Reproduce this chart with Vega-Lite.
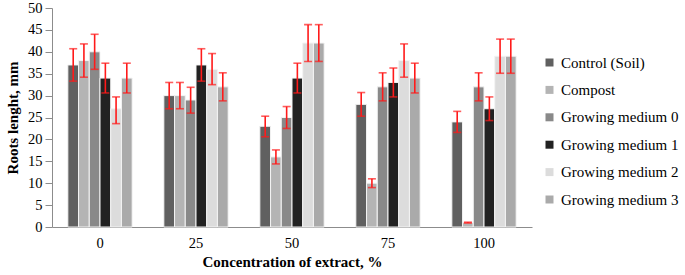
{
  "$schema": "https://vega.github.io/schema/vega-lite/v6.json",
  "width": 480,
  "height": 219,
  "autosize": {"type": "none"},
  "padding": {"left": 52, "top": 8, "right": 153, "bottom": 48},
  "config": {
    "view": {"stroke": null},
    "font": "Times New Roman",
    "axis": {"labelColor": "#000", "titleColor": "#000", "domainColor": "#8c8c8c", "tickColor": "#8c8c8c", "grid": false}
  },
  "datasets": {
    "roots": [
      {"conc": "0", "group": "Control (Soil)", "value": 37, "lo": 33.3, "hi": 40.7},
      {"conc": "0", "group": "Compost", "value": 38, "lo": 34.2, "hi": 41.8},
      {"conc": "0", "group": "Growing medium 0", "value": 40, "lo": 36, "hi": 44},
      {"conc": "0", "group": "Growing medium 1", "value": 34, "lo": 30.6, "hi": 37.4},
      {"conc": "0", "group": "Growing medium 2", "value": 27, "lo": 23.6, "hi": 29.7},
      {"conc": "0", "group": "Growing medium 3", "value": 34, "lo": 30.6, "hi": 37.4},
      {"conc": "25", "group": "Control (Soil)", "value": 30, "lo": 27, "hi": 33},
      {"conc": "25", "group": "Compost", "value": 30, "lo": 27, "hi": 33},
      {"conc": "25", "group": "Growing medium 0", "value": 29, "lo": 26, "hi": 31.9},
      {"conc": "25", "group": "Growing medium 1", "value": 37, "lo": 33.3, "hi": 40.7},
      {"conc": "25", "group": "Growing medium 2", "value": 36, "lo": 32.5, "hi": 39.6},
      {"conc": "25", "group": "Growing medium 3", "value": 32, "lo": 28.8, "hi": 35.2},
      {"conc": "50", "group": "Control (Soil)", "value": 23, "lo": 20.6, "hi": 25.3},
      {"conc": "50", "group": "Compost", "value": 16, "lo": 14.4, "hi": 17.6},
      {"conc": "50", "group": "Growing medium 0", "value": 25, "lo": 22.5, "hi": 27.5},
      {"conc": "50", "group": "Growing medium 1", "value": 34, "lo": 30.6, "hi": 37.4},
      {"conc": "50", "group": "Growing medium 2", "value": 42, "lo": 37.8, "hi": 46.2},
      {"conc": "50", "group": "Growing medium 3", "value": 42, "lo": 37.8, "hi": 46.2},
      {"conc": "75", "group": "Control (Soil)", "value": 28, "lo": 25.3, "hi": 30.7},
      {"conc": "75", "group": "Compost", "value": 10, "lo": 9, "hi": 11},
      {"conc": "75", "group": "Growing medium 0", "value": 32, "lo": 28.8, "hi": 35.2},
      {"conc": "75", "group": "Growing medium 1", "value": 33, "lo": 29.7, "hi": 36.3},
      {"conc": "75", "group": "Growing medium 2", "value": 38, "lo": 34.2, "hi": 41.8},
      {"conc": "75", "group": "Growing medium 3", "value": 34, "lo": 30.6, "hi": 37.4},
      {"conc": "100", "group": "Control (Soil)", "value": 24, "lo": 21.6, "hi": 26.4},
      {"conc": "100", "group": "Compost", "value": 1, "lo": 0.9, "hi": 1.1},
      {"conc": "100", "group": "Growing medium 0", "value": 32, "lo": 28.8, "hi": 35.2},
      {"conc": "100", "group": "Growing medium 1", "value": 27, "lo": 24.3, "hi": 29.7},
      {"conc": "100", "group": "Growing medium 2", "value": 39, "lo": 35.1, "hi": 42.9},
      {"conc": "100", "group": "Growing medium 3", "value": 39, "lo": 35.1, "hi": 42.9}
    ]
  },
  "data": {"name": "roots"},
  "encoding": {
    "x": {"field": "conc", "type": "ordinal", "sort": ["0", "25", "50", "75", "100"],
      "scale": {"paddingInner": 0.33, "paddingOuter": 0.165},
      "axis": {"title": "Concentration of extract, %", "labelAngle": 0, "ticks": false, "labelFont": "Times New Roman", "titleFont": "Times New Roman", "labelFontSize": 14.5, "labelPadding": 9, "titleFontSize": 15, "titleFontWeight": "bold", "titlePadding": 5}},
    "xOffset": {"field": "group", "type": "nominal", "sort": ["Control (Soil)", "Compost", "Growing medium 0", "Growing medium 1", "Growing medium 2", "Growing medium 3"]},
    "y": {"field": "value", "type": "quantitative", "scale": {"domain": [0, 50]},
      "axis": {"title": "Roots lenght, mm", "values": [0, 5, 10, 15, 20, 25, 30, 35, 40, 45, 50], "labelOverlap": false, "labelFont": "Times New Roman", "titleFont": "Times New Roman", "labelFontSize": 14.5, "labelPadding": 3, "titleFontSize": 15, "titleFontWeight": "bold", "tickSize": 7, "titlePadding": 7}}
  },
  "layer": [
    {
      "mark": {"type": "bar", "stroke": "#f4f4f4", "strokeWidth": 1},
      "encoding": {
        "color": {"field": "group", "type": "nominal",
          "sort": ["Control (Soil)", "Compost", "Growing medium 0", "Growing medium 1", "Growing medium 2", "Growing medium 3"],
          "scale": {"domain": ["Control (Soil)", "Compost", "Growing medium 0", "Growing medium 1", "Growing medium 2", "Growing medium 3"],
            "range": ["#606060", "#b4b4b4", "#898989", "#222222", "#dcdcdc", "#aaaaaa"]},
          "legend": {"title": null, "orient": "none", "legendX": 490, "legendY": 47, "symbolType": "square", "symbolSize": 64, "symbolStrokeWidth": 0, "labelFont": "Times New Roman", "labelFontSize": 15, "labelColor": "#000", "rowPadding": 11.4, "labelOffset": 4, "labelLimit": 200}}
      }
    },
    {
      "mark": {"type": "rule", "color": "#ff1a1a", "strokeWidth": 1.6},
      "encoding": {"y": {"field": "lo", "type": "quantitative"}, "y2": {"field": "hi"}}
    },
    {
      "mark": {"type": "tick", "color": "#ff1a1a", "thickness": 1.6, "size": 8},
      "encoding": {"y": {"field": "lo", "type": "quantitative"}}
    },
    {
      "mark": {"type": "tick", "color": "#ff1a1a", "thickness": 1.6, "size": 8},
      "encoding": {"y": {"field": "hi", "type": "quantitative"}}
    }
  ]
}
